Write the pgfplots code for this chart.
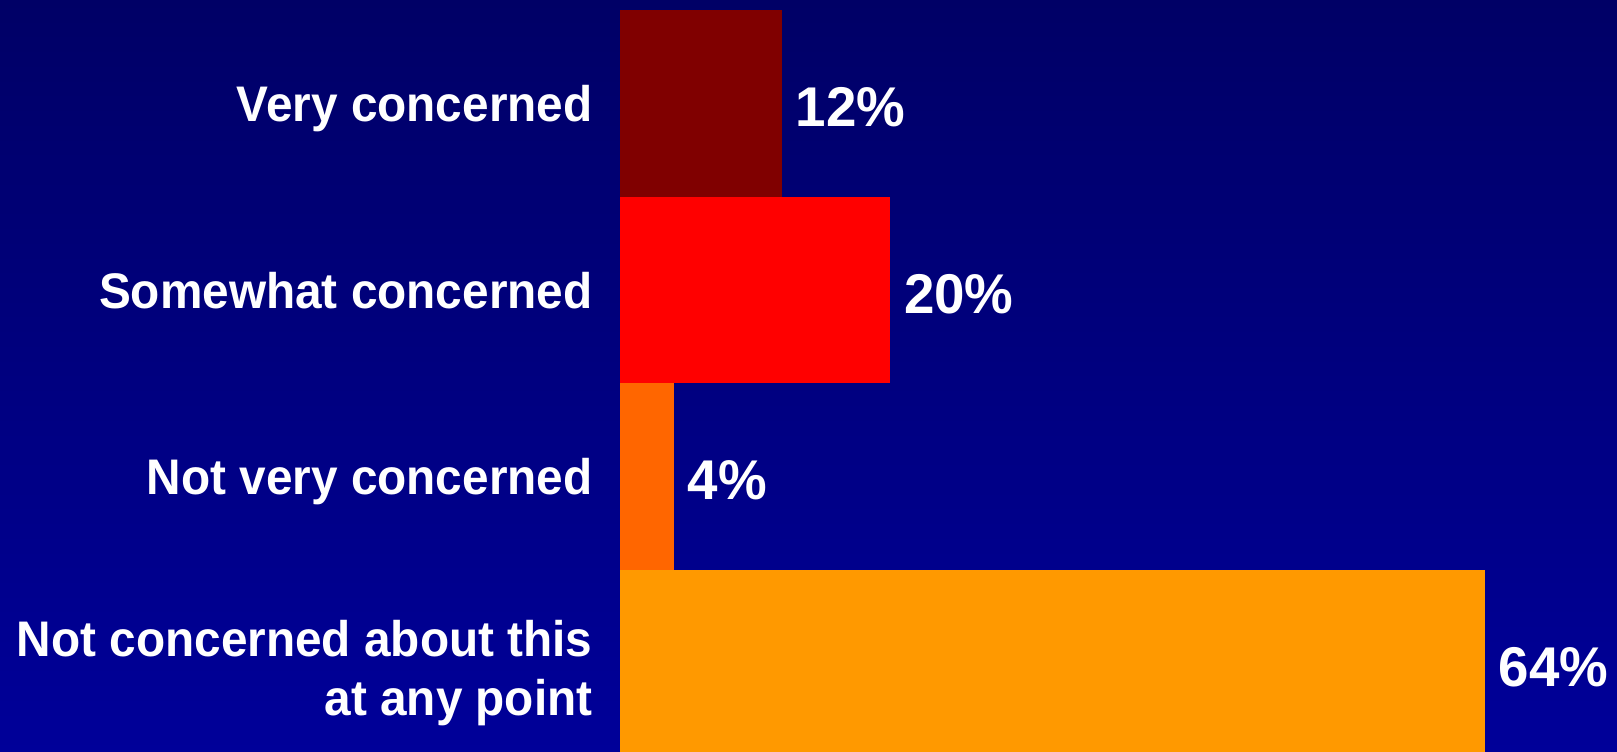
\documentclass[border=0pt]{standalone}
\usepackage{pgfplots}
\pgfplotsset{compat=1.18}
\usepackage{fontspec}
\setmainfont{Liberation Sans}
\newfontfamily\labelfont[FakeStretch=0.955]{Liberation Sans}
\newfontfamily\valfont[FakeStretch=0.977]{Liberation Sans}
\definecolor{bgtop}{HTML}{000066}
\definecolor{bgbot}{HTML}{000099}
\definecolor{c1}{HTML}{800000}
\definecolor{c2}{HTML}{FF0000}
\definecolor{c3}{HTML}{FF6600}
\definecolor{c4}{HTML}{FF9900}
\begin{document}
\begin{tikzpicture}
\useasboundingbox (0bp,0bp) rectangle (1617bp,752bp);
\shade[top color=bgtop,bottom color=bgbot] (0bp,0bp) rectangle (1617bp,752bp);
\begin{axis}[
  at={(620bp,-4.8bp)}, anchor=south west,
  scale only axis, width=997bp, height=746.8bp,
  xmin=0, xmax=73.76, ymin=-0.5, ymax=3.5,
  xbar, bar width=1, /pgf/bar shift=0pt,
  axis line style={draw=none}, major tick style={draw=none},
  xtick=\empty, ytick={-0.182,1,2,3},
  yticklabels={{Not concerned about this\\at any point},{Not very concerned},{Somewhat concerned},{Very concerned}},
  yticklabel style={font=\labelfont\fontsize{50bp}{59bp}\selectfont\bfseries, text=white, align=right, inner sep=0pt, anchor=base east, xshift=-23bp, yshift=-18bp},
  nodes near coords={\pgfmathprintnumber[assume math mode=true]{\pgfplotspointmeta}\%},
  nodes near coords style={font=\valfont\fontsize{56bp}{60bp}\selectfont\bfseries, text=white, anchor=base west, inner sep=0pt, xshift=13.5bp, yshift=-23bp},
  clip=false,
]
\addplot[fill=c1, draw=none] coordinates {(12,3)};
\addplot[fill=c2, draw=none] coordinates {(20,2)};
\addplot[fill=c3, draw=none] coordinates {(4,1)};
\addplot[fill=c4, draw=none] coordinates {(64,0)};
\end{axis}
\end{tikzpicture}
\end{document}
